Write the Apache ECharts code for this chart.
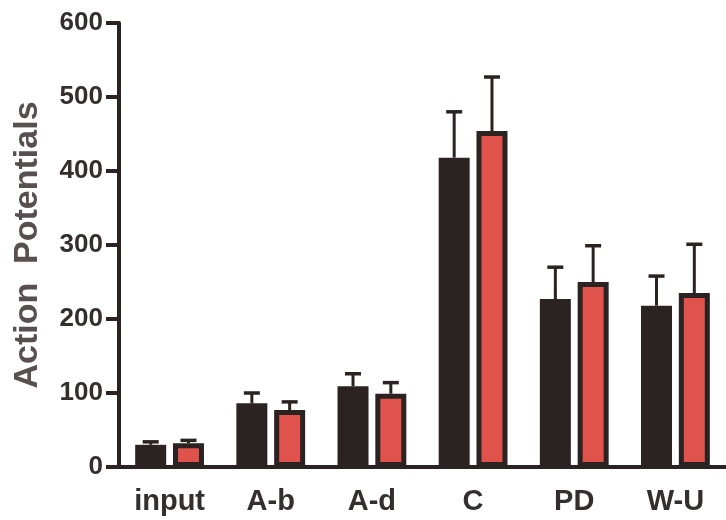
<!DOCTYPE html>
<html><head><meta charset="utf-8">
<script src="https://cdn.jsdelivr.net/npm/echarts@6/dist/echarts.min.js"></script>
<style>html,body{margin:0;padding:0;background:#fff}#c{width:726px;height:520px}</style>
</head><body><div id="c"></div>
<script>
const categories = ['input', 'A-b', 'A-d', 'C', 'PD', 'W-U'];
const blackValues = [30, 86, 109, 418, 227, 218];
const blackErrors = [4, 14, 17, 62, 43, 40];
const redValues = [32, 77, 99, 454, 250, 235];
const redErrors = [4, 11, 15, 73, 49, 66];
const yTicks = [0, 100, 200, 300, 400, 500, 600];

const DARK = '#2b2222';
const catGap = 0.32, barGap = 0.22;

function errSeries(vals, errs, side) {
  return {
    type: 'custom',
    z: 1,
    data: vals.map((v, i) => [i, v, errs[i]]),
    renderItem: function (params, api) {
      const band = api.size([1, 0])[0];
      const bw = band * (1 - catGap) / (2 + barGap);
      const off = side * (bw + bw * barGap) / 2;
      const base = api.coord([api.value(0), api.value(1)]);
      const top = api.coord([api.value(0), api.value(1) + api.value(2)]);
      const x = base[0] + off;
      const cap = 8;
      return {
        type: 'group',
        children: [
          { type: 'line', shape: { x1: x, y1: base[1], x2: x, y2: top[1] }, style: { stroke: DARK, lineWidth: 3 } },
          { type: 'line', shape: { x1: x - cap, y1: top[1], x2: x + cap, y2: top[1] }, style: { stroke: DARK, lineWidth: 3.5 } }
        ]
      };
    }
  };
}

const chart = echarts.init(document.getElementById('c'), null, { renderer: 'canvas' });
chart.setOption({
  animation: false,
  backgroundColor: '#fff',
  grid: { left: 119, right: 0, top: 23, bottom: 53, containLabel: false },
  xAxis: {
    type: 'category',
    data: categories,
    axisLine: { lineStyle: { color: DARK, width: 4 } },
    axisTick: { alignWithLabel: true, length: 11, lineStyle: { color: DARK, width: 4 } },
    axisLabel: { color: '#352e2e', fontFamily: 'Liberation Sans', fontWeight: 'bold', fontSize: 29, margin: 20 }
  },
  yAxis: {
    type: 'value',
    min: yTicks[0], max: yTicks[yTicks.length - 1], interval: 100,
    name: 'Action  Potentials',
    nameLocation: 'middle',
    nameGap: 74,
    nameTextStyle: { color: '#585050', fontFamily: 'Liberation Sans', fontWeight: 'bold', fontSize: 34 },
    splitLine: { show: false },
    axisLine: { show: true, lineStyle: { color: DARK, width: 4 } },
    axisTick: { show: true, length: 13, lineStyle: { color: DARK, width: 4 } },
    axisLabel: { color: '#352e2e', fontFamily: 'Liberation Sans', fontWeight: 'bold', fontSize: 26, margin: 16 }
  },
  series: [
    { type: 'bar', data: blackValues, barCategoryGap: '32%', barGap: '22%', z: 2,
      itemStyle: { color: DARK, borderColor: DARK, borderWidth: 0 } },
    { type: 'bar', data: redValues, z: 2,
      itemStyle: { color: '#e0534c', borderColor: DARK, borderWidth: 5 } },
    errSeries(blackValues, blackErrors, -1),
    errSeries(redValues, redErrors, 1)
  ]
});
</script></body></html>
